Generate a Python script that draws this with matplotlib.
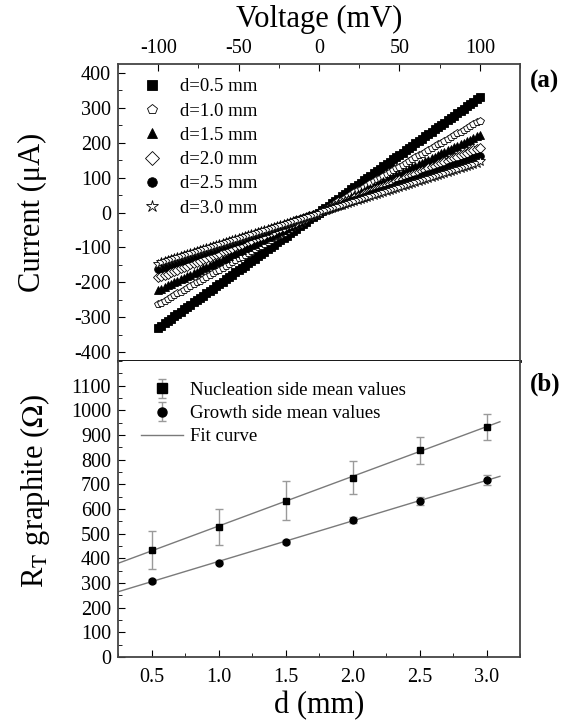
import numpy as np
import matplotlib
matplotlib.use('Agg')
import matplotlib.pyplot as plt
from matplotlib.ticker import MultipleLocator, FormatStrFormatter

plt.rcParams['font.family'] = ['Liberation Serif', 'DejaVu Serif']
plt.rcParams['mathtext.fontset'] = 'stix'
plt.rcParams['axes.unicode_minus'] = False

# (a) I-V sweeps, linear; resistance read from slope at +/-100 mV
voltage = np.arange(-100, 100.1, 2.0)          # mV
distances = ['0.5', '1.0', '1.5', '2.0', '2.5', '3.0']
iv_resistance = [303, 380, 450, 538, 620, 685]  # ohm
markers = ['s', 'p', '^', 'D', 'o', '*']
filled = [True, False, True, False, True, False]

# (b) mean total resistance vs distance
d_mm = [0.5, 1.0, 1.5, 2.0, 2.5, 3.0]
nucl_mean = [433, 527, 634, 726, 838, 933]
nucl_err = [76, 73, 78, 67, 55, 53]
growth_mean = [309, 383, 468, 555, 632, 717]
growth_err = [8, 6, 8, 12, 16, 20]

fig = plt.figure(figsize=(5.78, 7.22), dpi=100)
L, W = 118 / 578, 402 / 578
ax1 = fig.add_axes([L, 1 - 361 / 722, W, 297 / 722])
ax2 = fig.add_axes([L, 1 - 657 / 722, W, 296 / 722])

tick_fs = 14.5
leg_fs = 13.5
lab_fs = 22

for i, d in enumerate(distances):
    cur = voltage / iv_resistance[i] * 1000  # uA
    ax1.plot(voltage, cur, ls='none', marker=markers[i], ms=5.5 if markers[i] != '*' else 7,
             mfc='black' if filled[i] else 'white', mec='black', mew=0.6,
             label=f'd={d} mm')

ax1.set_xlim(-125, 125)
ax1.set_ylim(-425, 425)
ax1.xaxis.set_major_locator(MultipleLocator(50))
ax1.xaxis.set_minor_locator(MultipleLocator(25))
ax1.set_yticks(np.arange(-400, 401, 100))
ax1.yaxis.set_minor_locator(MultipleLocator(50))
ax1.tick_params(which='both', direction='in', top=True, bottom=False, right=False,
                labeltop=True, labelbottom=False, labelsize=tick_fs)
ax1.tick_params(which='major', length=5)
ax1.tick_params(which='minor', length=3)
ax1.tick_params(axis='x', pad=4)
ax1.tick_params(axis='y', pad=5)
ax1.xaxis.set_label_position('top')
ax1.set_xlabel('Voltage (mV)', fontsize=lab_fs, labelpad=9)
ax1.set_ylabel('Current (μA)', fontsize=lab_fs)
ax1.legend(loc='upper left', bbox_to_anchor=(0.061, 0.952), frameon=False,
           borderpad=0, borderaxespad=0, handlelength=1.0, handletextpad=1.0,
           labelspacing=0.38, fontsize=leg_fs, markerscale=1.25)
ax1.text(1.025, 0.94, '(a)', transform=ax1.transAxes, fontsize=18, fontweight='bold',
         va='center', ha='left')

# (b)
fit_x = np.array([0.25, 3.1])
for mean, err, mk, lab in [(nucl_mean, nucl_err, 's', 'Nucleation side mean values'),
                           (growth_mean, growth_err, 'o', 'Growth side mean values')]:
    ax2.errorbar(d_mm, mean, yerr=err, fmt=mk, color='black', ms=5,
                 ecolor='#9a9a9a', elinewidth=1, capsize=3, capthick=1, label=lab, zorder=3)
fit_handle = None
for mean in (nucl_mean, growth_mean):
    k, b = np.polyfit(d_mm, mean, 1)
    fit_handle, = ax2.plot(fit_x, k * fit_x + b, color='#7a7a7a', lw=1, zorder=2)
fit_handle.set_label('Fit curve')

ax2.set_xlim(0.25, 3.25)
ax2.set_ylim(0, 1200)
ax2.xaxis.set_major_locator(MultipleLocator(0.5))
ax2.xaxis.set_minor_locator(MultipleLocator(0.25))
ax2.set_yticks(np.arange(0, 1101, 100))
ax2.yaxis.set_minor_locator(MultipleLocator(50))
ax2.tick_params(which='both', direction='in', top=False, right=False, labelsize=tick_fs)
ax2.tick_params(which='major', length=5)
ax2.tick_params(which='minor', length=3)
ax2.tick_params(axis='x', pad=8)
ax2.tick_params(axis='y', pad=5)
ax2.xaxis.set_major_formatter(FormatStrFormatter('%.1f'))
ax2.set_xlabel('d (mm)', fontsize=lab_fs, labelpad=3)
ax2.set_ylabel(r'R$_{\mathrm{T}}$ graphite ($\Omega$)', fontsize=lab_fs)
h, l = ax2.get_legend_handles_labels()
order = [l.index('Nucleation side mean values'), l.index('Growth side mean values'), l.index('Fit curve')]
ax2.legend([h[i] for i in order], [l[i] for i in order], loc='upper left',
           bbox_to_anchor=(0.057, 0.93), frameon=False, borderpad=0, borderaxespad=0,
           handlelength=2.24, handletextpad=0.37, labelspacing=0.33, fontsize=leg_fs,
           markerscale=1.3)
ax2.text(1.025, 0.92, '(b)', transform=ax2.transAxes, fontsize=18, fontweight='bold',
         va='center', ha='left')

for ax in (ax1, ax2):
    for s in ax.spines.values():
        s.set_color('#444444')
        s.set_linewidth(1.3)
ax1.spines['bottom'].set_color('black')
ax1.spines['bottom'].set_linewidth(2)
ax2.spines['top'].set_visible(False)

# y labels at the same x
ax1.yaxis.set_label_coords(-0.177, 0.5)
ax2.yaxis.set_label_coords(-0.165, 0.56)

fig.savefig('out.png', dpi=100)
